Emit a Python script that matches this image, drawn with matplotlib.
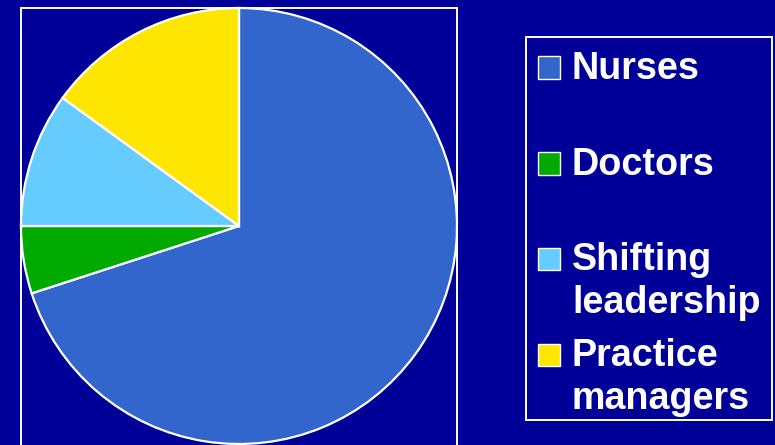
import matplotlib
matplotlib.use("Agg")
import matplotlib.pyplot as plt
from matplotlib.patches import Rectangle

labels = ["Nurses", "Doctors", "Shifting\nleadership", "Practice\nmanagers"]
shares = [70, 5, 10, 15]
colors = ["#3366CC", "#00AA00", "#66CCFF", "#FFE600"]

W, H = 775, 445
BG = "#000099"

fig = plt.figure(figsize=(W / 100, H / 100), dpi=100, facecolor=BG)

# pie, centre (239, 226) px, radius 218 px
cx, cy, r = 239, 226, 218
ax = fig.add_axes([(cx - r) / W, (H - cy - r) / H, 2 * r / W, 2 * r / H])
ax.pie(shares, colors=colors, startangle=90, counterclock=False,
       wedgeprops=dict(edgecolor="white", linewidth=1.6))
ax.set_xlim(-1, 1)
ax.set_ylim(-1, 1)
ax.set_aspect("equal")
ax.axis("off")

def px_rect(x0, y0, x1, y1, **kw):
    # rectangle given in pixel coords, y measured from the top
    return Rectangle((x0 / W, 1 - y1 / H), (x1 - x0) / W, (y1 - y0) / H,
                     transform=fig.transFigure, **kw)

# frames
fig.patches.append(px_rect(20.5, 7.5, 457, 450, fill=False, edgecolor="white", linewidth=1.4))
fig.patches.append(px_rect(526, 37, 772, 420, fill=False, edgecolor="white", linewidth=1.4))

# legend entries
base = 79
step = 95.7
for i, (lab, col) in enumerate(zip(labels, colors)):
    yb = base + i * step
    fig.patches.append(px_rect(537.5, yb - 22.5, 559.5, yb, facecolor=col,
                               edgecolor="white", linewidth=1.0))
    lines = lab.split("\n")
    for j, line in enumerate(lines):
        fig.text(572 / W, 1 - (yb + j * 43) / H, line, color="white",
                 fontsize=27.2, fontweight="bold", family="Liberation Sans",
                 ha="left", va="baseline")

fig.savefig("out.png", dpi=100, facecolor=BG)
